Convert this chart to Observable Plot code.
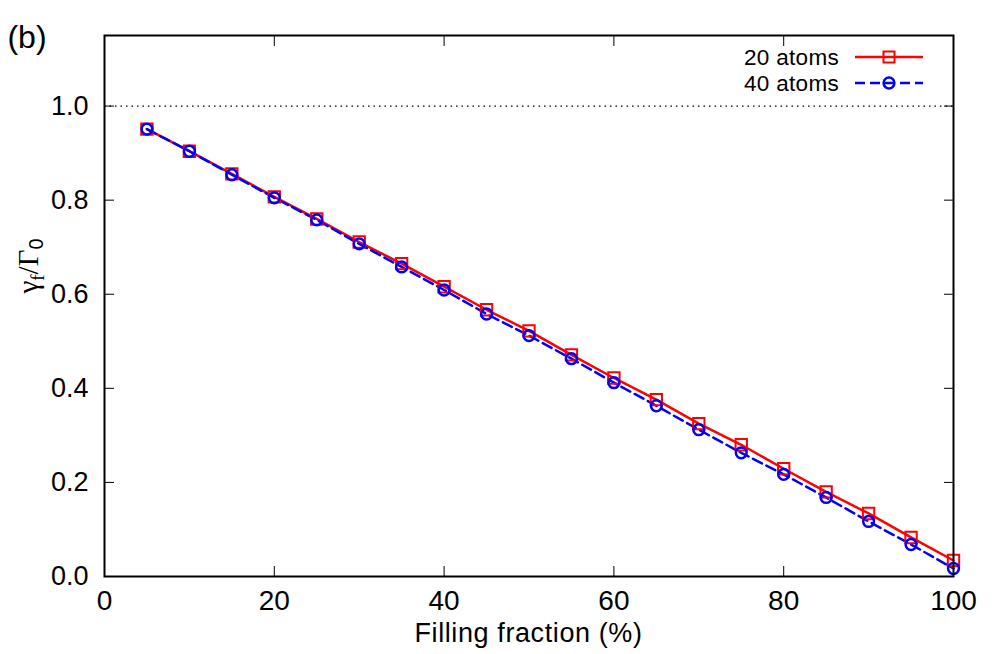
<!DOCTYPE html>
<html>
<head>
<meta charset="utf-8">
<script src="https://cdn.jsdelivr.net/npm/d3@7"></script>
<script src="https://cdn.jsdelivr.net/npm/@observablehq/plot@0.6"></script>
<style>
  html, body { margin: 0; padding: 0; background: #fff; }
  svg { font-family: "Liberation Sans", Arial, sans-serif; }
</style>
</head>
<body>
<div id="chart"></div>
<script>
const fillingFraction = [5,10,15,20,25,30,35,40,45,50,55,60,65,70,75,80,85,90,95,100];
const atoms20 = [0.951,0.904,0.856,0.807,0.760,0.711,0.665,0.616,0.567,0.522,0.471,0.422,0.376,0.325,0.280,0.229,0.180,0.134,0.083,0.034];
const atoms40 = [0.951,0.904,0.854,0.805,0.758,0.707,0.658,0.609,0.558,0.512,0.463,0.412,0.363,0.312,0.263,0.217,0.168,0.117,0.068,0.017];
const xTicks = [0,20,40,60,80,100];
const yTicks = [0,0.2,0.4,0.6,0.8,1.0];
const seriesNames = ["20 atoms", "40 atoms"];
const reference = [1.0];

const d20 = fillingFraction.map((x, i) => ({x, y: atoms20[i]}));
const d40 = fillingFraction.map((x, i) => ({x, y: atoms40[i]}));

const fmt = d3.format(".1f");

const chart = Plot.plot({
  width: 997,
  height: 654,
  marginLeft: 104,
  marginRight: 44,
  marginTop: 35,
  marginBottom: 78,
  style: {fontFamily: "'Liberation Sans', Arial, sans-serif", background: "#fff"},
  x: {domain: [0, 100]},
  y: {domain: [0, 1.15]},
  marks: [
    Plot.ruleY(reference, {stroke: "#000", strokeWidth: 1.3, strokeDasharray: "1.5,4"}),
    Plot.axisX(xTicks, {anchor: "bottom", tickSize: 0, tickPadding: 14, fontSize: 28, label: null, tickFormat: d => String(d)}),
    Plot.axisX(xTicks, {anchor: "bottom", tickSize: -10, tickFormat: () => "", label: null}),
    Plot.axisX(xTicks, {anchor: "top", tickSize: -10, tickFormat: () => "", label: null}),
    Plot.axisY(yTicks, {anchor: "left", tickSize: 0, tickPadding: 16, fontSize: 27, label: null, tickFormat: fmt}),
    Plot.axisY(yTicks, {anchor: "left", tickSize: -10, tickFormat: () => "", label: null}),
    Plot.axisY(yTicks, {anchor: "right", tickSize: -10, tickFormat: () => "", label: null}),
    Plot.line(d20, {x: "x", y: "y", stroke: "#ff0000", strokeWidth: 2.5}),
    Plot.line(d40, {x: "x", y: "y", stroke: "#0000ff", strokeWidth: 2.5, strokeDasharray: "10,5"}),
    Plot.dot(d20, {x: "x", y: "y", symbol: "square", r: 6.4, stroke: "#ff0000", strokeWidth: 2, fill: "none"}),
    Plot.dot(d40, {x: "x", y: "y", symbol: "circle", r: 5.4, stroke: "#0000ff", strokeWidth: 2.5, fill: "none"}),
    Plot.frame({stroke: "#000", strokeWidth: 2})
  ]
});

document.getElementById("chart").appendChild(chart);

const svg = d3.select(chart);
const W = 997, mL = 104, mR = 44;
const cx = mL + (W - mL - mR) / 2;

// x label
svg.append("text")
  .attr("x", cx).attr("y", 642)
  .attr("text-anchor", "middle")
  .attr("font-size", 27)
  .attr("letter-spacing", 0.6)
  .attr("font-family", "'Liberation Sans', Arial, sans-serif")
  .attr("fill", "#000")
  .text("Filling fraction (%)");

// y label
const yl = svg.append("text")
  .attr("transform", "translate(38, 266) rotate(-90)")
  .attr("text-anchor", "middle")
  .attr("font-size", 29)
  .attr("font-family", "'Liberation Serif', 'DejaVu Serif', serif")
  .attr("fill", "#000");
yl.append("tspan").text("γ");
yl.append("tspan").attr("font-size", 19).attr("dy", 6).text("f");
yl.append("tspan").attr("dy", -6).text("/Γ");
yl.append("tspan").attr("font-size", 20).attr("dy", 5).attr("font-family", "'Liberation Sans', Arial, sans-serif").text("0");

// panel label
svg.append("text")
  .attr("x", 27).attr("y", 48)
  .attr("font-size", 32)
  .attr("font-family", "'Liberation Sans', Arial, sans-serif")
  .attr("fill", "#000")
  .text("(b)");

// legend
const legend = [
  {name: seriesNames[0], color: "#ff0000", dash: null, sym: "square", y: 57},
  {name: seriesNames[1], color: "#0000ff", dash: "10,5", sym: "circle", y: 83}
];
legend.forEach(l => {
  svg.append("text")
    .attr("x", 839).attr("y", l.y + 8)
    .attr("text-anchor", "end")
    .attr("font-size", 22.5)
    .attr("letter-spacing", 0.3)
    .attr("font-family", "'Liberation Sans', Arial, sans-serif")
    .attr("fill", "#000")
    .text(l.name);
  svg.append("line")
    .attr("x1", 855).attr("x2", 923).attr("y1", l.y).attr("y2", l.y)
    .attr("stroke", l.color).attr("stroke-width", 2.5)
    .attr("stroke-dasharray", l.dash);
  if (l.sym === "square") {
    svg.append("rect").attr("x", 883.5).attr("y", l.y - 5.5).attr("width", 11).attr("height", 11)
      .attr("fill", "none").attr("stroke", l.color).attr("stroke-width", 2);
  } else {
    svg.append("circle").attr("cx", 889).attr("cy", l.y).attr("r", 5.4)
      .attr("fill", "none").attr("stroke", l.color).attr("stroke-width", 2.5);
  }
});
</script>
</body>
</html>
